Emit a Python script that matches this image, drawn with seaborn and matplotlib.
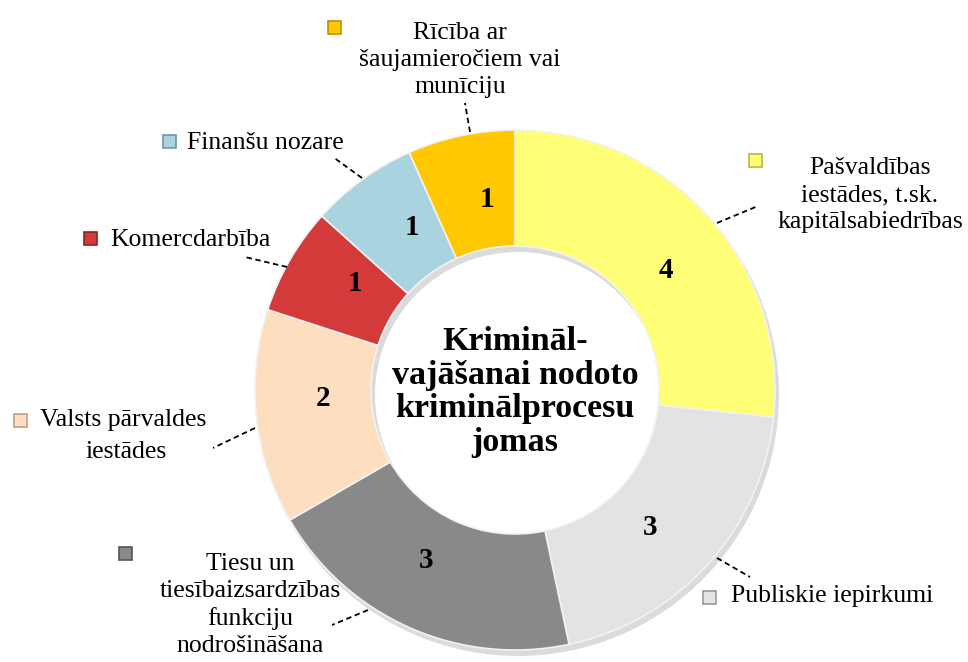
import matplotlib
matplotlib.use("Agg")
import numpy as np
import matplotlib.pyplot as plt
from matplotlib.patches import Rectangle, Wedge
import seaborn as sns

# ---- data ----
categories = [
    "Pašvaldības\niestādes, t.sk.\nkapitālsabiedrības",
    "Publiskie iepirkumi",
    "Tiesu un\ntiesībaizsardzības\nfunkciju\nnodrošināšana",
    "Valsts pārvaldes\niestādes",
    "Komercdarbība",
    "Finanšu nozare",
    "Rīcība ar\nšaujamieročiem vai\nmunīciju",
]
values = [4, 3, 3, 2, 1, 1, 1]
center_title = "Krimināl-\nvajāšanai nodoto\nkriminālprocesu\njomas"

# ---- style ----
colors = ["#FFFF77", "#E3E3E3", "#898989", "#FDDFC0", "#D43A3A", "#A9D3DF", "#FFC800"]
marker_edge = ["#B8B83A", "#9A9A9A", "#555555", "#C0A080", "#902020", "#6A98A6", "#C09000"]

sns.set_theme(style="white")
plt.rcParams["font.family"] = ["Liberation Serif", "DejaVu Serif"]
plt.rcParams["text.color"] = "black"

W, H = 968, 662
fig = plt.figure(figsize=(W / 100, H / 100), dpi=100)
ax = fig.add_axes([0, 0, 1, 1])

cx, cy = 515, H - 390
R = 260
ring = 116

# soft shadow behind the ring
ax.add_patch(Wedge((cx + 3, cy - 5), R + 1, 0, 360, width=ring + 2,
                   facecolor="#000000", alpha=0.14, edgecolor="none", zorder=0))

total = sum(values)
wedges, texts, autotexts = ax.pie(
    values,
    colors=colors,
    startangle=90,
    counterclock=False,
    radius=R,
    center=(cx, cy),
    wedgeprops=dict(width=ring, edgecolor="#F2F2F2", linewidth=1.2),
    autopct=lambda p: f"{p * total / 100:.0f}",
    pctdistance=0.74,
    textprops=dict(fontsize=21, fontweight="bold", color="black"),
)
# nudge value labels slightly clockwise like the reference
for w, t in zip(wedges, autotexts):
    mid = np.deg2rad((w.theta1 + w.theta2) / 2 - 3.5)
    t.set_position((cx + 0.74 * R * np.cos(mid), cy + 0.74 * R * np.sin(mid)))

ax.set_xlim(0, W)
ax.set_ylim(0, H)
ax.set_aspect("equal")
ax.axis("off")

# center title
ax.text(cx, H - 392, center_title, ha="center", va="center", fontsize=24.5,
        fontweight="bold", linespacing=1.12)

FS = 18.5
# outside labels: (marker x, marker y, text x, text y, ha, leader line)
layout = [
    (755, 160, 870, 195, "center", [(717, 223), (758, 206)]),
    (709, 597, 731, 596, "left", [(717, 558), (750, 577)]),
    (125, 553, 250, 605, "center", [(368, 610), (332, 625)]),
    (20, 420, 40, 434, "left", [(255, 428), (213, 448)]),
    (90, 238, 110, 240, "left", [(287, 267), (245, 257)]),
    (169, 141, 187, 143, "left", [(362, 178), (333, 157)]),
    (334, 27, 460, 60, "center", [(470, 132), (465, 103)]),
]

for (mx, my, tx, ty, ha, line), label, col, ecol in zip(layout, categories, colors, marker_edge):
    s = 13
    ax.add_patch(Rectangle((mx - s / 2, H - my - s / 2), s, s, facecolor=col,
                           edgecolor=ecol, linewidth=1.2, zorder=5))
    if label.startswith("Valsts"):
        lines = label.split("\n")
        ax.text(tx, H - 420, lines[0], ha="left", va="center", fontsize=FS)
        ax.text(126, H - 452, lines[1], ha="center", va="center", fontsize=FS)
    else:
        ax.text(tx, H - ty, label, ha=ha, va="center", fontsize=FS,
                linespacing=1.3, multialignment="center")
    (x0, y0), (x1, y1) = line
    ax.plot([x0, x1], [H - y0, H - y1], color="black", lw=1.3,
            linestyle=(0, (3, 2)), zorder=4)

fig.savefig("out.png", dpi=100)
